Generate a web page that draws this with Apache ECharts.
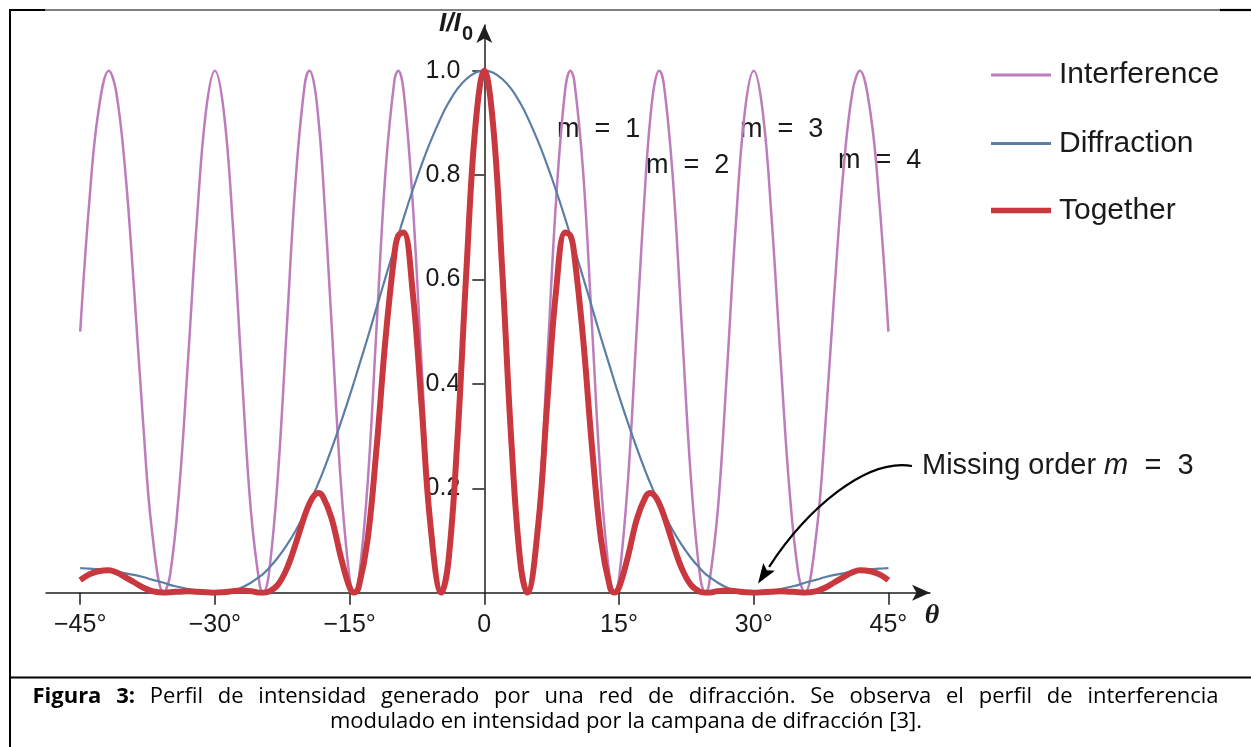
<!DOCTYPE html>
<html>
<head>
<meta charset="utf-8">
<script src="https://cdn.jsdelivr.net/npm/echarts@6/dist/echarts.min.js"></script>
<style>
html,body{margin:0;padding:0;background:#fff;}
#chart{width:1251px;height:747px;}
</style>
</head>
<body>
<div id="chart"></div>
<script>
// Sample angles (degrees)
const theta = [-45,-44,-43,-41.81,-41,-40,-39,-38,-37,-35.69,-35,-34,-33,-32,-31,-30,-29,-28,-27,-26,-25,-24.62,-24,-23,-22,-21,-20,-19.47,-19,-18.5,-18,-17,-16,-15,-14.48,-14,-13,-12,-11,-10,-9.59,-9,-8,-7,-6,-4.78,-4,-3,-2,-1,
  0,1,2,3,4,4.78,6,7,8,9,9.59,10,11,12,13,14,14.48,15,16,17,18,18.5,19,19.47,20,21,22,23,24,24.62,25,26,27,28,29,30,31,32,33,34,35,35.69,37,38,39,40,41,41.81,43,44,45];

const interference = [0.50,0.746,0.919,1,0.960,0.811,0.581,0.327,0.117,0,0.033,0.193,0.444,0.715,0.922,1,0.920,0.704,0.418,0.158,0.013,0,0.035,0.221,0.507,0.793,0.973,1,0.979,0.912,0.804,0.513,0.216,0.027,0,0.023,0.207,0.508,0.807,0.983,1,0.963,0.754,0.442,0.151,0,0.064,0.304,0.626,0.896,
  1,0.896,0.626,0.304,0.064,0,0.151,0.442,0.754,0.963,1,0.983,0.807,0.508,0.207,0.023,0,0.027,0.216,0.513,0.804,0.912,0.979,1,0.973,0.793,0.507,0.221,0.035,0,0.013,0.158,0.418,0.704,0.920,1,0.922,0.715,0.444,0.193,0.033,0,0.117,0.327,0.581,0.811,0.960,1,0.919,0.746,0.50];

const diffraction = [0.047,0.046,0.045,0.043,0.041,0.037,0.034,0.030,0.025,0.019,0.015,0.011,0.007,0.003,0.001,0,0.001,0.004,0.010,0.019,0.031,0.036,0.047,0.067,0.091,0.119,0.152,0.171,0.189,0.209,0.230,0.276,0.325,0.377,0.405,0.432,0.488,0.546,0.604,0.661,0.684,0.717,0.770,0.819,0.864,0.912,0.938,0.965,0.984,0.996,
  1,0.996,0.984,0.965,0.938,0.912,0.864,0.819,0.770,0.717,0.684,0.661,0.604,0.546,0.488,0.432,0.405,0.377,0.325,0.276,0.230,0.209,0.189,0.171,0.152,0.119,0.091,0.067,0.047,0.036,0.031,0.019,0.010,0.004,0.001,0,0.001,0.003,0.007,0.011,0.015,0.019,0.025,0.030,0.034,0.037,0.041,0.043,0.045,0.046,0.047];

const together = [0.024,0.035,0.041,0.043,0.039,0.030,0.020,0.010,0.003,0,0.001,0.002,0.003,0.002,0.001,0,0.001,0.003,0.004,0.003,0,0,0.002,0.015,0.046,0.094,0.148,0.171,0.185,0.191,0.185,0.142,0.070,0.010,0,0.010,0.101,0.277,0.487,0.650,0.684,0.690,0.580,0.362,0.130,0,0.060,0.293,0.616,0.892,
  1,0.892,0.616,0.293,0.060,0,0.130,0.362,0.580,0.690,0.684,0.650,0.487,0.277,0.101,0.010,0,0.010,0.070,0.142,0.185,0.191,0.185,0.171,0.148,0.094,0.046,0.015,0.002,0,0,0.003,0.004,0.003,0.001,0,0.001,0.002,0.003,0.002,0.001,0,0.003,0.010,0.020,0.030,0.039,0.043,0.041,0.035,0.024];

const seriesNames = ['Interference','Diffraction','Together'];
const xTicks = [-45,-30,-15,0,15,30,45];
const yTicks = [0.2,0.4,0.6,0.8,1.0];
const mLabels = ['m  =  1','m  =  2','m  =  3','m  =  4'];
const captionBold = 'Figura 3:';
const captionLine1 = 'Perfil de intensidad generado por una red de difracción. Se observa el perfil de interferencia';
const captionLine2 = 'modulado en intensidad por la campana de difracción [3].';

const pairs = arr => theta.map((t,i)=>[t, arr[i]]);
const AX = '#1e1e1e';
const FONT = 'Liberation Sans, Arial, sans-serif';
const CAP_FONT = 'Open Sans, sans-serif';
const COLORS = ['#bd7cbb','#5b7ea5','#c8383e'];

// layout
const GRID = {left:46, right:321, top:25, bottom:154.3};
const X_MIN = -48.81, X_MAX = 49.63;
const gridW = 1251 - GRID.left - GRID.right;
const yAxisOffset = -((0 - X_MIN) / (X_MAX - X_MIN)) * gridW; // put y axis at theta = 0

// justified first caption line: words joined with widened spaces
const boldWords = captionBold.split(' ').map(w => '{b|' + w + '}');
const line1Rich = boldWords.concat(captionLine1.split(' ')).join('{s| }');

const chart = echarts.init(document.getElementById('chart'), null, {renderer:'canvas'});

// Arrow geometry for annotation
const tip = [758, 583.5];
const dir = [-0.555, 0.832];
const perp = [0.832, 0.555];
const aLen = 20, aHalf = 7;
const base = [tip[0]-aLen*dir[0], tip[1]-aLen*dir[1]];
const notch = [base[0]+4*dir[0], base[1]+4*dir[1]];

function legendFor(i, top, h){
  return {orient:'vertical', left:986, top:top, itemWidth:60, itemHeight:h, icon:'rect',
    data:[seriesNames[i]], selectedMode:false,
    textStyle:{fontSize:30, fontFamily:FONT, color:'#1a1a1a', padding:[0,0,0,3]}};
}

const option = {
  animation:false,
  backgroundColor:'#fff',
  grid:Object.assign({containLabel:false, outerBoundsMode:'none'}, GRID),
  xAxis:{
    type:'value', min:X_MIN, max:X_MAX,
    axisLine:{show:true, onZero:true, symbol:['none','arrow'], symbolSize:[12,18], lineStyle:{color:AX, width:1.5}},
    axisTick:{show:true, customValues:xTicks, length:12, lineStyle:{color:AX, width:1.5}},
    axisLabel:{customValues:xTicks, margin:20, fontSize:25, fontFamily:FONT, color:'#1a1a1a',
      formatter:v=> v===0 ? '0' : (v<0 ? '\u2212'+(-v) : String(v))+'\u00B0'},
    splitLine:{show:false}
  },
  yAxis:{
    type:'value', min:0, max:1.0875, position:'left', offset:yAxisOffset,
    axisLine:{show:true, onZero:false, symbol:['none','arrow'], symbolSize:[12,18], lineStyle:{color:AX, width:1.5}},
    axisTick:{show:true, customValues:yTicks, length:12, lineStyle:{color:AX, width:1.5}},
    axisLabel:{customValues:yTicks, margin:24, fontSize:25, fontFamily:FONT, color:'#1a1a1a',
      formatter:v=>v.toFixed(1)},
    splitLine:{show:false}
  },
  legend:[legendFor(0, 55, 3), legendFor(1, 123.5, 3), legendFor(2, 190.5, 5.5)],
  series:[
    {name:seriesNames[0], type:'line', data:pairs(interference), smooth:0.4, symbol:'none', z:2,
      lineStyle:{color:COLORS[0], width:2.5}, itemStyle:{color:COLORS[0]}},
    {name:seriesNames[1], type:'line', data:pairs(diffraction), smooth:0.4, symbol:'none', z:3,
      lineStyle:{color:COLORS[1], width:2.2}, itemStyle:{color:COLORS[1]}},
    {name:seriesNames[2], type:'line', data:pairs(together), smooth:0.4, symbol:'none', z:4,
      lineStyle:{color:COLORS[2], width:6}, itemStyle:{color:COLORS[2]}}
  ],
  graphic:[
    // frame lines
    {type:'line', shape:{x1:10, y1:9, x2:10, y2:747}, style:{stroke:'#000', lineWidth:2}, z:-1},
    {type:'line', shape:{x1:9, y1:10, x2:1251, y2:10}, style:{stroke:'#000', lineWidth:1.2}, z:-1},
    {type:'line', shape:{x1:9, y1:10, x2:45, y2:10}, style:{stroke:'#000', lineWidth:2.2}, z:-1},
    {type:'line', shape:{x1:1220, y1:10, x2:1251, y2:10}, style:{stroke:'#000', lineWidth:2.2}, z:-1},
    {type:'line', shape:{x1:9, y1:677.5, x2:1251, y2:677.5}, style:{stroke:'#000', lineWidth:2}, z:-1},
    // y axis name I/I0
    {type:'text', x:439, y:24, style:{text:'I/I', fontSize:26, fontWeight:'bold', fontStyle:'italic', fontFamily:FONT, fill:'#1a1a1a', textVerticalAlign:'middle'}},
    {type:'text', x:462, y:34, style:{text:'0', fontSize:20, fontWeight:'bold', fontFamily:FONT, fill:'#1a1a1a', textVerticalAlign:'middle'}},
    // x axis name theta
    {type:'text', x:932, y:616, style:{text:'\u03B8', fontSize:28, fontWeight:'bold', fontStyle:'italic', fontFamily:'Liberation Serif, serif', fill:'#1a1a1a', textAlign:'center', textVerticalAlign:'middle'}},
    // order labels
    {type:'text', x:557, y:130, style:{text:mLabels[0], fontSize:27, fontFamily:FONT, fill:'#1a1a1a', textVerticalAlign:'middle'}},
    {type:'text', x:646, y:166, style:{text:mLabels[1], fontSize:27, fontFamily:FONT, fill:'#1a1a1a', textVerticalAlign:'middle'}},
    {type:'text', x:740, y:130, style:{text:mLabels[2], fontSize:27, fontFamily:FONT, fill:'#1a1a1a', textVerticalAlign:'middle'}},
    {type:'text', x:838, y:161, style:{text:mLabels[3], fontSize:27, fontFamily:FONT, fill:'#1a1a1a', textVerticalAlign:'middle'}},
    // Missing order annotation
    {type:'text', x:922, y:466, z:10, style:{text:'Missing order {i|m}  =  3', fontSize:29, fontFamily:FONT, fill:'#1a1a1a', textVerticalAlign:'middle',
      rich:{i:{fontStyle:'italic', fontSize:29, fontFamily:FONT, fill:'#1a1a1a'}}}},
    {type:'bezierCurve', z:10, shape:{x1:912, y1:466, cpx1:866, cpy1:458, cpx2:807, cpy2:509, x2:base[0], y2:base[1]}, style:{stroke:'#000', lineWidth:2.2, fill:null}},
    {type:'polygon', z:10, shape:{points:[tip, [base[0]+aHalf*perp[0], base[1]+aHalf*perp[1]], notch, [base[0]-aHalf*perp[0], base[1]-aHalf*perp[1]]]}, style:{fill:'#000'}},
    // caption
    {type:'text', x:625.5, y:697, style:{text:line1Rich,
      fontSize:22, fontFamily:CAP_FONT, fill:'#000', textAlign:'center', textVerticalAlign:'middle',
      rich:{b:{fontWeight:'bold', fontSize:22, fontFamily:CAP_FONT, fill:'#000'},
            s:{width:14.8, fontSize:22, fontFamily:CAP_FONT}}}},
    {type:'text', x:626, y:722, style:{text:captionLine2,
      fontSize:22, fontFamily:CAP_FONT, fill:'#000', textAlign:'center', textVerticalAlign:'middle'}}
  ]
};
chart.setOption(option);
</script>
</body>
</html>
